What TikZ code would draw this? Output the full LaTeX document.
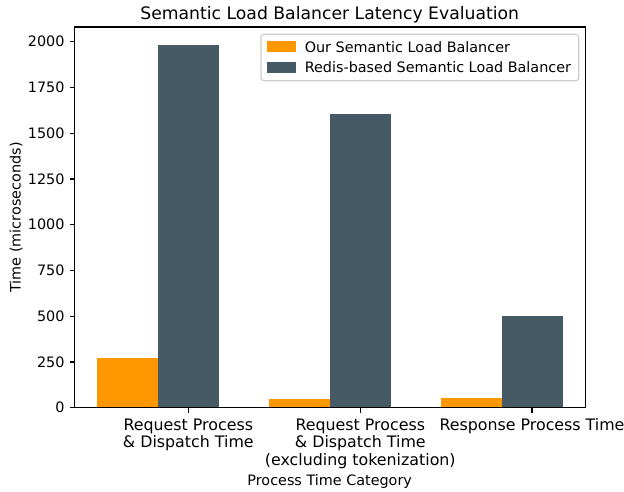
\documentclass[tikz,border=0pt]{standalone}
\usepackage{fontspec}
\setmainfont{DejaVu Sans}
\definecolor{ours}{HTML}{FF9800}
\definecolor{redis}{HTML}{455A64}
\definecolor{legedge}{HTML}{CCCCCC}
\begin{document}
\begin{tikzpicture}[x=0.72pt,y=-0.72pt,
  lbl/.style={inner sep=0pt,font=\fontsize{10.35}{12.7}\selectfont},
  xtl/.style={inner sep=0pt,font=\fontsize{11.4}{12.75}\selectfont},
  ttl/.style={inner sep=0pt,font=\fontsize{12.4}{14}\selectfont},
  spine/.style={draw=black,line width=0.8pt},
  tickmark/.style={draw=black,line width=0.8pt},
  barours/.style={fill=ours,draw=none},
  barredis/.style={fill=redis,draw=none},
  legbox/.style={draw=legedge,fill=white,line width=0.8pt,rounded corners=2pt}]
\useasboundingbox (0,0) rectangle (624,491);
% bars
\fill[barours] (97,407.7) rectangle (158,357.9);
\fill[barredis] (158,407.7) rectangle (218.7,45.0);
\fill[barours] (269.3,407.7) rectangle (330,399.0);
\fill[barredis] (330,407.7) rectangle (390.7,114.0);
\fill[barours] (441,407.7) rectangle (502,398.0);
\fill[barredis] (502,407.7) rectangle (562.7,316.0);
% axes
\coordinate (axbl) at (74.5,407.7);
\coordinate (axtr) at (585.5,27);
\draw[spine] (axbl) rectangle (axtr);
% y ticks
\foreach \v/\yy in {0/407.7,250/362.0,500/316.2,750/270.5,1000/224.7,1250/179.0,1500/133.2,1750/87.5,2000/41.7}{
  \draw[tickmark] (74.5,\yy) -- (69.6,\yy);
  \node[lbl,anchor=east] (yt\v) at (64.8,\yy) {\v};
}
% x ticks
\foreach \xx/\nm in {188.3/a,360.3/b,532/c}{
  \draw[tickmark] (\xx,407.7) -- (\xx,412.6);
  \coordinate (xt\nm) at (\xx,418.3);
}
\node[xtl,anchor=north,align=center] (xla) at (xta) {Request Process\\\& Dispatch Time};
\node[xtl,anchor=north,align=center] (xlb) at (xtb) {Request Process\\\& Dispatch Time\\(excluding tokenization)};
\node[xtl,anchor=north,align=center] (xlc) at (xtc) {Response Process Time};
% labels
\node[lbl,anchor=base] (xlabel) at (329.7,485) {Process Time Category};
\node[lbl,anchor=base,rotate=90] (ylabel) at (20.5,217.4) {Time (microseconds)};
\node[ttl,anchor=base] (title) at (329.7,19) {Semantic Load Balancer Latency Evaluation};
% legend
\draw[legbox] (261,34.3) rectangle (578.7,80.7);
\fill[barours] (266.7,41) rectangle (296,52);
\fill[barredis] (266.7,61.7) rectangle (296,72.7);
\node[lbl,anchor=base west] (leg1) at (304.5,52.2) {Our Semantic Load Balancer};
\node[lbl,anchor=base west] (leg2) at (304.5,72.5) {Redis-based Semantic Load Balancer};
\end{tikzpicture}
\end{document}
